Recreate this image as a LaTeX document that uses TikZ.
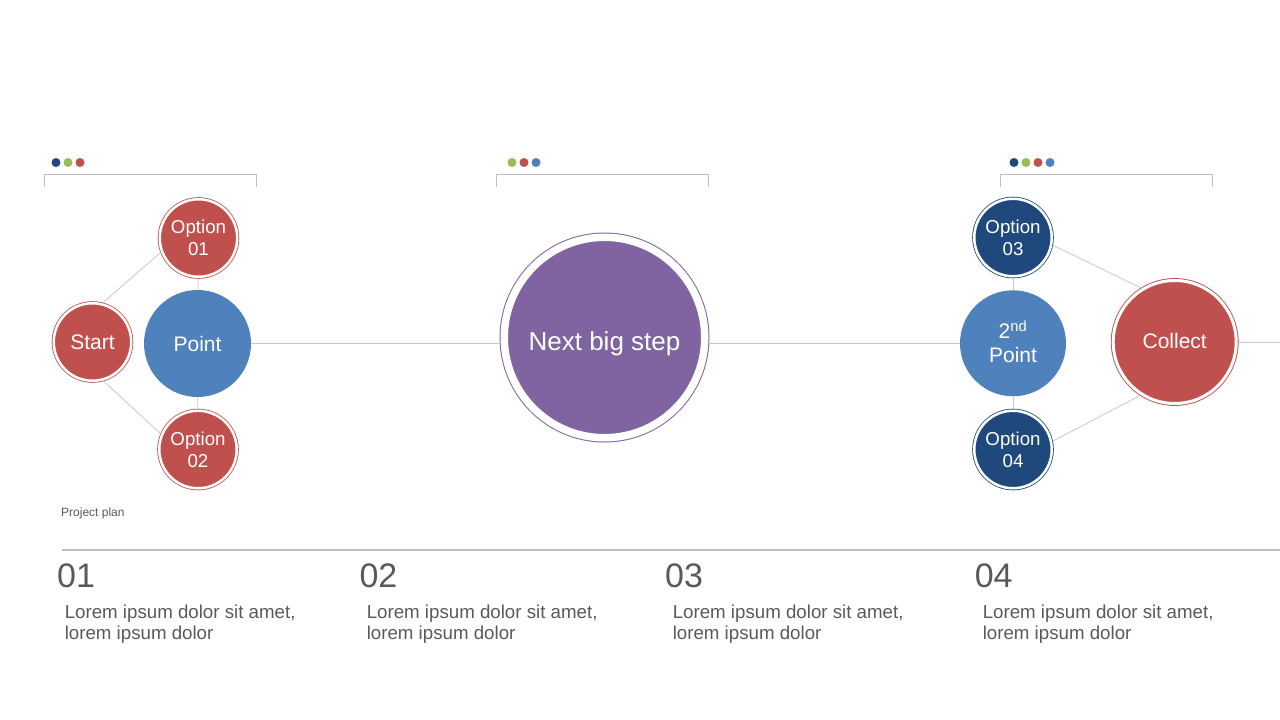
\documentclass[tikz,border=0pt]{standalone}
\usepackage{fontspec}
\setmainfont{Liberation Sans}
\definecolor{cred}{HTML}{C0504D}
\definecolor{cdark}{HTML}{1F497D}
\definecolor{cblue}{HTML}{4F81BD}
\definecolor{cpurple}{HTML}{8064A2}
\definecolor{cgreen}{HTML}{9BBB59}
\definecolor{cline}{HTML}{C8C8C8}
\definecolor{crule}{HTML}{BFBFBF}
\definecolor{ctext}{HTML}{595959}
\begin{document}
\begin{tikzpicture}[x=1pt,y=-1pt,
  smallring/.style={circle, fill=#1, draw=#1, double=white, double distance=2.5pt,
    line width=0.8pt, minimum size=77.5pt, outer sep=2.05pt, inner sep=0pt,
    text=white, align=center, font=\fontsize{18.7}{21.7}\selectfont},
  plaindisc/.style={circle, fill=cblue, minimum size=107pt, inner sep=0pt, outer sep=0pt,
    text=white, align=center, font=\fontsize{21}{24}\selectfont},
  conn/.style={draw=cline, line width=0.8pt},
  bracket/.style={draw=crule, line width=1pt},
  numlabel/.style={anchor=base west, inner sep=0pt, text=ctext, font=\fontsize{34}{36}\selectfont},
  desc/.style={anchor=north west, inner sep=0pt, text=ctext, align=left, font=\fontsize{18.7}{20.8}\selectfont}
]
\useasboundingbox (0,0) rectangle (1280,720);

% ---- dots and brackets
\fill[cdark] (56,162.5) circle (4.5);
\fill[cgreen] (68,162.5) circle (4.5);
\fill[cred] (80,162.5) circle (4.5);
\draw[bracket] (44,186.5) -- (44,174.5) -- (256,174.5) -- (256,186.5);

\fill[cgreen] (512,162.5) circle (4.5);
\fill[cred] (524,162.5) circle (4.5);
\fill[cblue] (536,162.5) circle (4.5);
\draw[bracket] (496.5,186.5) -- (496.5,174.5) -- (708.5,174.5) -- (708.5,186.5);

\fill[cdark] (1014,162.5) circle (4.5);
\fill[cgreen] (1026,162.5) circle (4.5);
\fill[cred] (1038,162.5) circle (4.5);
\fill[cblue] (1050,162.5) circle (4.5);
\draw[bracket] (1000.5,186.5) -- (1000.5,174.5) -- (1212.5,174.5) -- (1212.5,186.5);

% ---- left cluster
\node[smallring=cred, font=\fontsize{21}{24}\selectfont] (start) at (92.5,342) {Start};
\node[smallring=cred] (o1) at (198.5,238) {Option\\01};
\node[smallring=cred] (o2) at (198,449.5) {Option\\02};
\node[plaindisc] (point) at (197.5,343.5) {Point};

% ---- centre
\node[circle, fill=cpurple, draw=cpurple, double=white, double distance=7.5pt,
  line width=1pt, minimum size=200.5pt, outer sep=4.75pt, inner sep=0pt,
  text=white, font=\fontsize{26}{30}\selectfont, text depth=0pt]
  (nbs) at (604.5,337.5) {\raisebox{-7pt}{Next big step}};

% ---- right cluster
\node[smallring=cdark] (o3) at (1013,237.5) {Option\\03};
\node[smallring=cdark] (o4) at (1013,449.5) {Option\\04};
\node[plaindisc, minimum size=106pt] (tp) at (1013,343.3) {2\textsuperscript{\smash{nd}}\\Point};
\node[circle, fill=cred, draw=cred, double=white, double distance=3pt,
  line width=0.9pt, minimum size=123pt, outer sep=2.4pt, inner sep=0pt,
  text=white, font=\fontsize{21}{24}\selectfont]
  (collect) at (1174.7,342) {\raisebox{3pt}{Collect}};
\coordinate (rightend) at (1280,342);

% ---- connectors
\draw[conn] (start.75) -- (o1.201.7);
\draw[conn] (start.-74) -- (o2.157.6);
\draw[conn] (o1) -- (point);
\draw[conn] (point) -- (o2);
\draw[conn] (point.east) -- (point.east -| nbs.west);
\draw[conn] (nbs.east |- tp.west) -- (tp.west);
\draw[conn] (o3) -- (tp);
\draw[conn] (tp) -- (o4);
\draw[conn] (o3.-11) -- (collect.122.5);
\draw[conn] (o4.12.8) -- (collect.237.5);
\draw[conn] (collect.east) -- (rightend);

% ---- bottom
\node[anchor=base west, inner sep=0pt, text=ctext, font=\fontsize{12}{14}\selectfont]
  (pp) at (61,516.5) {Project plan};
\coordinate (ruleL) at (62,550);
\coordinate (ruleR) at (1280,550);
\draw[draw=crule, line width=1.2pt] (ruleL) -- (ruleR);

\node[numlabel] (n1) at (57,587) {01};
\node[numlabel] (n2) at (359.3,587) {02};
\node[numlabel] (n3) at (665,587) {03};
\node[numlabel] (n4) at (974.6,587) {04};

\node[desc] (d1) at (64.6,604.6) {Lorem ipsum dolor sit amet,\\lorem ipsum dolor};
\node[desc] (d2) at (366.6,604.6) {Lorem ipsum dolor sit amet,\\lorem ipsum dolor};
\node[desc] (d3) at (672.6,604.6) {Lorem ipsum dolor sit amet,\\lorem ipsum dolor};
\node[desc] (d4) at (982.6,604.6) {Lorem ipsum dolor sit amet,\\lorem ipsum dolor};
\end{tikzpicture}
\end{document}
